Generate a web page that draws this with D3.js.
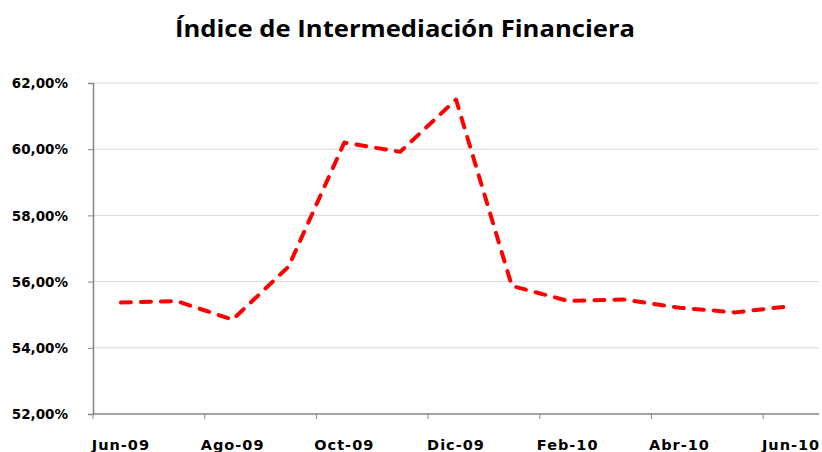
<!DOCTYPE html>
<html lang="es">
<head>
<meta charset="utf-8">
<title>Índice de Intermediación Financiera</title>
<script src="https://d3js.org/d3.v7.min.js"></script>
<style>
  body { margin: 0; background: #fff; }
  svg text { fill: #000; }
</style>
</head>
<body>
<svg id="chart"></svg>
<script>
  const width = 822;
  const height = 452;

  const months = ["Jun-09","Jul-09","Ago-09","Sep-09","Oct-09","Nov-09","Dic-09",
                  "Ene-10","Feb-10","Mar-10","Abr-10","May-10","Jun-10"];
  const values = [55.37, 55.41, 54.85, 56.45, 60.2, 59.92, 61.5,
                  55.87, 55.42, 55.46, 55.21, 55.07, 55.26];
  const yTicks = [52, 54, 56, 58, 60, 62];

  const margin = {top: 83, right: 3, bottom: 38, left: 93};

  const svg = d3.select("#chart")
    .attr("width", width)
    .attr("height", height);

  const x = d3.scaleBand()
    .domain(months)
    .range([margin.left, width - margin.right]);

  const y = d3.scaleLinear()
    .domain([52, 62])
    .range([height - margin.bottom, margin.top]);

  // title
  svg.append("text")
    .attr("x", 405)
    .attr("y", 37)
    .attr("text-anchor", "middle")
    .attr("textLength", 460)
    .attr("lengthAdjust", "spacingAndGlyphs")
    .style("font-family", "'Open Sans', sans-serif")
    .style("font-weight", "700")
    .style("font-size", "24px")
    .text("Índice de Intermediación Financiera");

  // gridlines
  svg.append("g")
    .selectAll("line")
    .data(yTicks.slice(1))
    .enter()
    .append("line")
    .attr("x1", margin.left)
    .attr("x2", width - margin.right)
    .attr("y1", d => y(d))
    .attr("y2", d => y(d))
    .attr("stroke", "#d9d9d9")
    .attr("stroke-width", 1);

  // y axis
  const yAxis = svg.append("g")
    .attr("transform", `translate(${margin.left},0)`)
    .call(d3.axisLeft(y).tickValues(yTicks).tickSize(5).tickPadding(20)
      .tickFormat(d => d3.format(".2f")(d).replace(".", ",") + "%"));

  // x axis: ticks at every second category boundary
  const xAxis = svg.append("g")
    .attr("transform", `translate(0,${height - margin.bottom})`);
  xAxis.append("line")
    .attr("x1", margin.left)
    .attr("x2", width - margin.right)
    .attr("stroke", "#868686")
    .attr("stroke-width", 1.5);
  xAxis.selectAll("line.tick")
    .data(months.filter((d, i) => i % 2 === 0))
    .enter()
    .append("line")
    .attr("class", "tick")
    .attr("x1", d => x(d))
    .attr("x2", d => x(d))
    .attr("y1", 0)
    .attr("y2", 5)
    .attr("stroke", "#868686");
  xAxis.selectAll("text")
    .data(months.filter((d, i) => i % 2 === 0))
    .enter()
    .append("text")
    .attr("x", d => x(d) + x.bandwidth() / 2)
    .attr("y", 36)
    .attr("text-anchor", "middle")
    .style("font-family", "'DejaVu Sans', sans-serif")
    .style("font-weight", "700")
    .style("font-size", "14.5px")
    .style("letter-spacing", "1px")
    .text(d => d);

  yAxis.select(".domain").attr("stroke", "#868686").attr("stroke-width", 1.5);
  yAxis.selectAll(".tick line").attr("stroke", "#868686");
  yAxis.selectAll(".tick text")
    .style("font-family", "'DejaVu Sans', sans-serif")
    .style("font-weight", "700")
    .style("font-size", "13.5px")
    .attr("dy", "0.35em");

  // line
  const line = d3.line()
    .x((d, i) => x(months[i]) + x.bandwidth() / 2)
    .y(d => y(d));

  svg.append("path")
    .datum(values)
    .attr("d", line)
    .attr("fill", "none")
    .attr("stroke", "#ff0000")
    .attr("stroke-width", 4)
    .attr("stroke-dasharray", "10,10")
    .attr("stroke-linecap", "round")
    .attr("stroke-linejoin", "round");
</script>
</body>
</html>
